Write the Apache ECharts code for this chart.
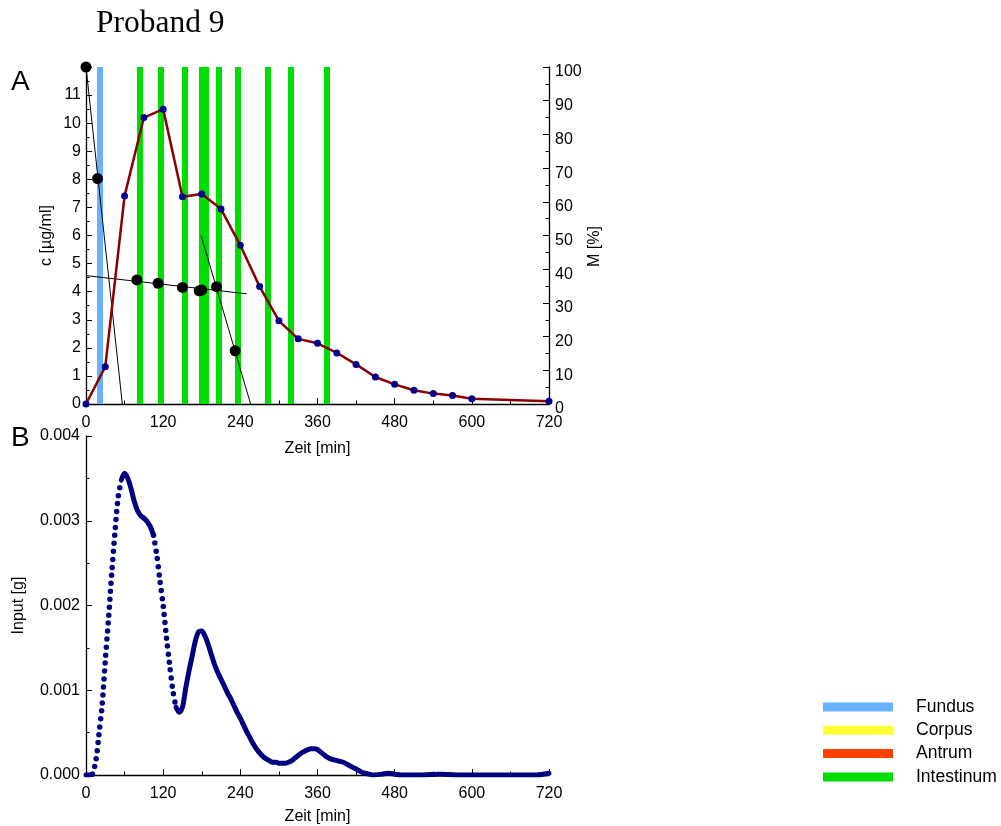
<!DOCTYPE html>
<html>
<head>
<meta charset="utf-8">
<script src="https://cdn.jsdelivr.net/npm/echarts@6/dist/echarts.min.js"></script>
<style>
  html, body { margin: 0; padding: 0; background: #fff; }
  #main { width: 1001px; height: 826px; }
</style>
</head>
<body>
<div id="main"></div>
<script>
// Plasmakonzentration c [µg/ml] (rote Kurve)
var tConc = [0, 30, 60, 90, 120, 150, 180, 210, 240, 270, 300, 330, 360, 390, 420, 450, 480, 510, 540, 570, 600, 720];
var conc  = [0, 1.33, 7.41, 10.2, 10.5, 7.38, 7.48, 6.94, 5.65, 4.18, 2.96, 2.32, 2.16, 1.82, 1.41, 0.96, 0.70, 0.49, 0.37, 0.30, 0.19, 0.10];

// Magenrest M [%] (schwarze Punkte)
var tM   = [0, 18, 79, 112, 150, 176, 180, 203, 232];
var mPct = [100, 66.9, 36.8, 35.8, 34.6, 33.6, 33.8, 34.8, 15.8];

// Regressionsgeraden (Endpunkte)
var fit1T = [0, 56.5],  fit1M = [100, 0];
var fit2T = [0, 250],   fit2M = [38.1, 32.7];
var fit3T = [179, 256], fit3M = [50, 0];

// Kapselposition (Zeitpunkte)
var fundusT = [21.5];
var corpusT = [];
var antrumT = [];
var intestinumT = [84, 116.5, 154, 180.5, 186.5, 207, 236.5, 283, 319, 375];

// Input [g] (Panel B)
var tIn = [0, 5, 10, 15, 20, 25, 30, 35, 40, 45, 50, 55, 60, 65, 70, 75, 80, 85, 90, 95,
  100, 105, 110, 115, 120, 125, 130, 135, 140, 145, 150, 155, 160, 165, 170, 175, 180, 185, 190, 195,
  200, 205, 210, 215, 220, 225, 230, 235, 240, 245, 250, 255, 260, 265, 270, 275, 280, 285, 290, 295,
  300, 305, 310, 315, 320, 325, 330, 335, 340, 345, 350, 355, 360, 365, 370, 375, 380, 385, 390, 395,
  400, 405, 410, 415, 420, 425, 430, 435, 440, 445, 460, 470, 480, 490, 520, 550, 580, 620, 660, 700, 720];
var input = [0, 0, 0.00001, 0.00015, 0.00047, 0.00082, 0.00135, 0.00184, 0.00238, 0.00286, 0.00328, 0.00348, 0.00356, 0.00350, 0.00338, 0.00323, 0.00312, 0.00306, 0.00303, 0.00299,
  0.00293, 0.00283, 0.00260, 0.00229, 0.00200, 0.00163, 0.00130, 0.00100, 0.00080, 0.00074, 0.00080, 0.00102, 0.00122, 0.00140, 0.00158, 0.00169, 0.00170, 0.00164, 0.00154, 0.00142,
  0.00130, 0.00121, 0.00113, 0.00105, 0.00097, 0.00090, 0.00082, 0.00074, 0.00067, 0.00059, 0.00051, 0.00044, 0.00037, 0.00031, 0.00026, 0.00022, 0.00019, 0.00017, 0.00015, 0.00015,
  0.00014, 0.00014, 0.00014, 0.00015, 0.00017, 0.00020, 0.00023, 0.00026, 0.00028, 0.00030, 0.00031, 0.00031, 0.00030, 0.00027, 0.00024, 0.00021, 0.00019, 0.00018, 0.00017, 0.00016,
  0.00015, 0.00013, 0.00011, 0.00009, 0.00007, 0.00005, 0.00003, 0.00002, 0.00001, 0, 0.00001, 0.00002, 0.00001, 0, 0, 0.00001, 0, 0, 0, 0, 0.00002];

function pairs(xs, ys) {
    return xs.map(function (x, i) { return [x, ys[i]]; });
}
function bandLines(ts) {
    return ts.map(function (t) { return { xAxis: t }; });
}

// steile Abschnitte werden gepunktet gezeichnet, der Rest durchgezogen
var inputPts = pairs(tIn, input);
var inputParts = [[0, 10, false], [10, 55, true], [55, 105, false], [105, 140, true], [140, 720, false]];
var inputSeries = inputParts.map(function (p) {
    return {
        type: 'line', xAxisIndex: 1, yAxisIndex: 2, z: 4,
        showSymbol: false, smooth: 0.3, silent: true,
        lineStyle: p[2]
            ? { color: '#000080', width: 5.5, type: [0, 8], cap: 'round' }
            : { color: '#000080', width: 5, cap: 'round' },
        data: inputPts.filter(function (d) { return d[0] >= p[0] && d[0] <= p[1]; })
    };
});

var font = 'Liberation Sans, Arial, sans-serif';
var axisCommon = {
    axisLine: { show: true, lineStyle: { color: '#000', width: 1.3 } },
    axisTick: { show: true, inside: true, length: 6, lineStyle: { color: '#000' } },
    minorTick: { show: true, splitNumber: 2, length: 3.5, lineStyle: { color: '#000' } },
    splitLine: { show: false },
    axisLabel: { color: '#000', fontSize: 16, fontFamily: font },
    nameTextStyle: { color: '#000', fontSize: 16, fontFamily: font },
    nameLocation: 'middle'
};

function bandSeries(name, color, ts) {
    return {
        name: name, type: 'line', data: [], xAxisIndex: 0, yAxisIndex: 0, z: 1,
        color: color,
        markLine: { silent: true, z: 1, symbol: ['none', 'none'], label: { show: false },
            lineStyle: { color: color, width: 6, type: 'solid' }, data: bandLines(ts) }
    };
}

var myChart = echarts.init(document.getElementById('main'));
var option = {
    animation: false,
    backgroundColor: '#fff',
    title: {
        text: 'Proband 9',
        left: 96, top: 8, padding: 0,
        textStyle: { fontFamily: 'Liberation Serif, Times New Roman, serif', fontSize: 31.5, fontWeight: 'normal', color: '#000' }
    },
    graphic: [
        { type: 'text', left: 11, top: 68, style: { text: 'A', font: '28px ' + font, fill: '#000' } },
        { type: 'text', left: 11, top: 424, style: { text: 'B', font: '28px ' + font, fill: '#000' } }
    ],
    legend: {
        data: ['Fundus', 'Corpus', 'Antrum', 'Intestinum'],
        orient: 'vertical',
        left: 823, top: 698,
        icon: 'rect',
        itemWidth: 70, itemHeight: 9,
        itemGap: 5.3,
        padding: 0,
        selectedMode: false,
        textStyle: { color: '#000', fontSize: 17.5, fontFamily: font, lineHeight: 18, padding: [0, 0, 0, 18] }
    },
    grid: [
        { left: 86, right: 452, top: 67, height: 337 },
        { left: 86, right: 452, top: 436, height: 339 }
    ],
    xAxis: [
        Object.assign({}, axisCommon, {
            gridIndex: 0, type: 'value', min: 0, max: 720, interval: 120,
            name: 'Zeit [min]', nameGap: 37,
            axisLabel: Object.assign({}, axisCommon.axisLabel, { margin: 11 })
        }),
        Object.assign({}, axisCommon, {
            gridIndex: 1, type: 'value', min: 0, max: 720, interval: 120,
            name: 'Zeit [min]', nameGap: 34,
            axisLabel: Object.assign({}, axisCommon.axisLabel, { margin: 11 })
        })
    ],
    yAxis: [
        Object.assign({}, axisCommon, {
            gridIndex: 0, type: 'value', min: 0, max: 12, interval: 1,
            name: 'c [µg/ml]', nameGap: 31, nameRotate: 90,
            axisLabel: Object.assign({}, axisCommon.axisLabel, {
                margin: 5,
                formatter: function (v) { return v === 12 ? '' : v; }
            })
        }),
        Object.assign({}, axisCommon, {
            gridIndex: 0, type: 'value', position: 'right', min: 0, max: 100, interval: 10,
            name: 'M [%]', nameGap: 38, nameRotate: 90,
            nameTextStyle: Object.assign({}, axisCommon.nameTextStyle, { padding: [0, 22, 0, 0] }),
            axisLabel: Object.assign({}, axisCommon.axisLabel, { margin: 6, verticalAlign: 'top', lineHeight: 10 })
        }),
        Object.assign({}, axisCommon, {
            gridIndex: 1, type: 'value', min: 0, max: 0.004, interval: 0.001,
            name: 'Input [g]', nameGap: 59, nameRotate: 90,
            axisLabel: Object.assign({}, axisCommon.axisLabel, {
                margin: 6,
                formatter: function (v) { return v.toFixed(3); }
            })
        })
    ],
    series: [
        bandSeries('Fundus', '#66B2FF', fundusT),
        bandSeries('Corpus', '#FFFF33', corpusT),
        bandSeries('Antrum', '#FF4000', antrumT),
        bandSeries('Intestinum', '#00DD00', intestinumT),
        // Regressionsgeraden
        { type: 'line', xAxisIndex: 0, yAxisIndex: 1, z: 3, showSymbol: false, silent: true,
          lineStyle: { color: '#000', width: 1 }, data: pairs(fit1T, fit1M) },
        { type: 'line', xAxisIndex: 0, yAxisIndex: 1, z: 3, showSymbol: false, silent: true,
          lineStyle: { color: '#000', width: 1 }, data: pairs(fit2T, fit2M) },
        { type: 'line', xAxisIndex: 0, yAxisIndex: 1, z: 3, showSymbol: false, silent: true,
          lineStyle: { color: '#000', width: 1 }, data: pairs(fit3T, fit3M) },
        // c-Verlauf
        { type: 'line', xAxisIndex: 0, yAxisIndex: 0, z: 4,
          symbol: 'circle', symbolSize: 7, showAllSymbol: true,
          lineStyle: { color: '#8B0000', width: 2.5 },
          itemStyle: { color: '#00008B' },
          data: pairs(tConc, conc) },
        // M-Punkte
        { type: 'scatter', xAxisIndex: 0, yAxisIndex: 1, z: 5,
          symbol: 'circle', symbolSize: 11,
          itemStyle: { color: '#000', opacity: 1 },
          data: pairs(tM, mPct) }
    ].concat(inputSeries)
};
myChart.setOption(option);
</script>
</body>
</html>
